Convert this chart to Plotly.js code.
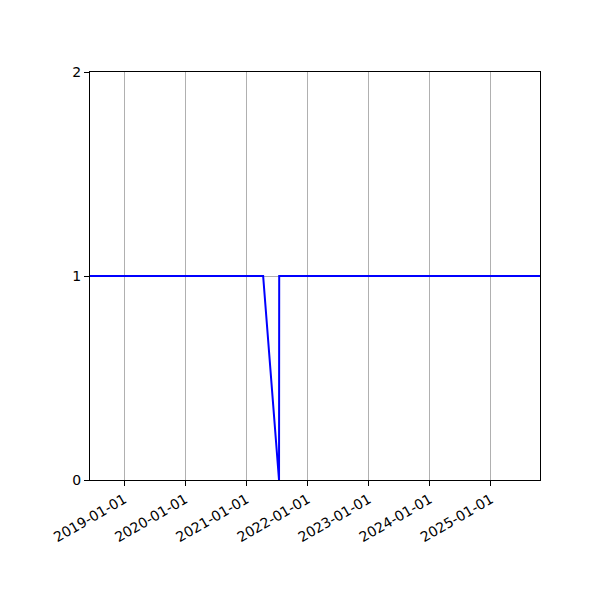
<!DOCTYPE html>
<html>
<head>
<meta charset="utf-8">
<script src="https://cdn.plot.ly/plotly-3.0.1.min.js"></script>
<style>
  html, body { margin: 0; padding: 0; background: #fff; }
  #chart { width: 600px; height: 600px; }
</style>
</head>
<body>
<div id="chart"></div>
<script>
// Series: flat at 1 with a single dip to 0 in mid 2021
const dates  = ['2018-06-10', '2021-04-10', '2021-07-14', '2021-07-15', '2025-10-21'];
const values = [1, 1, 0, 1, 1];

const tickDates  = ['2019-01-01', '2020-01-01', '2021-01-01', '2022-01-01',
                    '2023-01-01', '2024-01-01', '2025-01-01'];
const yTicks = [0, 1, 2];

const AXIS_COMMON = {
  showline: true,
  linecolor: '#000',
  linewidth: 1,
  mirror: true,
  ticks: 'outside',
  ticklen: 5,
  tickwidth: 1,
  tickcolor: '#000',
  showgrid: true,
  gridcolor: '#b0b0b0',
  gridwidth: 1,
  zeroline: false,
  tickfont: { family: 'DejaVu Sans, sans-serif', size: 14, color: '#000' },
};

const trace = {
  type: 'scatter',
  mode: 'lines',
  x: dates,
  y: values,
  line: { color: '#0000ff', width: 2 },
  hoverinfo: 'skip',
};

const layout = {
  width: 600,
  height: 600,
  paper_bgcolor: '#fff',
  plot_bgcolor: '#fff',
  showlegend: false,
  margin: { l: 90, r: 60, t: 72, b: 120 },
  xaxis: Object.assign({}, AXIS_COMMON, {
    type: 'date',
    range: [dates[0], dates[dates.length - 1]],
    tickmode: 'array',
    tickvals: tickDates,
    ticktext: tickDates,
    tickangle: -30,
  }),
  yaxis: Object.assign({}, AXIS_COMMON, {
    range: [0, 2],
    tickmode: 'array',
    tickvals: yTicks,
    ticktext: yTicks.map(String),
  }),
};

Plotly.newPlot('chart', [trace], layout, { displayModeBar: false, staticPlot: true });
</script>
</body>
</html>
